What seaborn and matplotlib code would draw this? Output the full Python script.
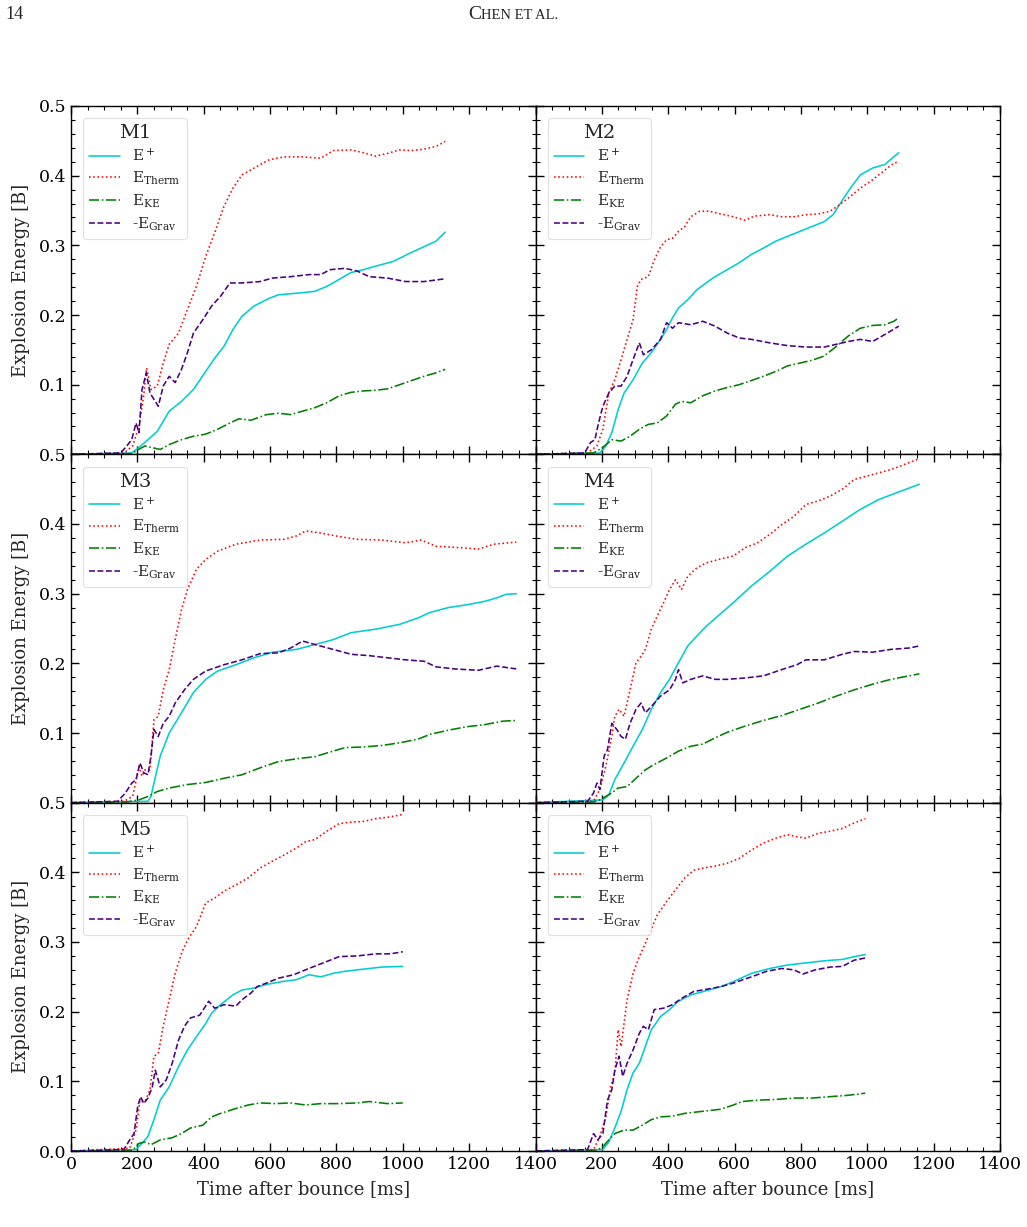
import numpy as np
import pandas as pd
import matplotlib
matplotlib.use("Agg")
import matplotlib.pyplot as plt
import seaborn as sns
from matplotlib.ticker import MultipleLocator, FuncFormatter

# ---------------- data (time in ms, energy in B) ----------------
MODELS = ["M1", "M2", "M3", "M4", "M5", "M6"]

# M1
M1_EP_T = [0, 183, 205, 232, 260, 296, 333, 369, 406, 433, 461, 488, 515, 552, 598, 625, 698, 735, 771, 808, 844, 881, 918, 972, 1018, 1064, 1100, 1128]
M1_EP_V = [0, 0.002, 0.010, 0.021, 0.033, 0.062, 0.076, 0.093, 0.119, 0.138, 0.155, 0.179, 0.198, 0.213, 0.224, 0.229, 0.232, 0.234, 0.241, 0.251, 0.261, 0.265, 0.270, 0.277, 0.288, 0.298, 0.306, 0.319]
M1_TH_T = [0, 160, 186, 205, 219, 228, 241, 260, 278, 296, 324, 351, 378, 406, 433, 461, 488, 515, 552, 598, 643, 698, 753, 790, 844, 881, 918, 954, 991, 1027, 1064, 1100, 1128]
M1_TH_V = [0, 0.002, 0.012, 0.041, 0.084, 0.124, 0.093, 0.098, 0.131, 0.158, 0.174, 0.208, 0.241, 0.284, 0.318, 0.356, 0.382, 0.401, 0.411, 0.423, 0.427, 0.427, 0.425, 0.436, 0.437, 0.433, 0.428, 0.432, 0.437, 0.436, 0.438, 0.442, 0.449]
M1_KE_T = [0, 185, 196, 223, 241, 269, 296, 333, 369, 406, 442, 479, 506, 543, 589, 625, 662, 698, 735, 771, 808, 844, 881, 918, 954, 991, 1027, 1064, 1100, 1128]
M1_KE_V = [0, 0.001, 0.005, 0.012, 0.010, 0.007, 0.014, 0.021, 0.026, 0.029, 0.036, 0.045, 0.051, 0.049, 0.057, 0.059, 0.057, 0.062, 0.067, 0.074, 0.084, 0.089, 0.091, 0.092, 0.094, 0.100, 0.106, 0.112, 0.117, 0.122]
M1_GR_T = [0, 150, 168, 183, 196, 205, 214, 227, 238, 250, 263, 278, 296, 314, 333, 351, 369, 397, 424, 451, 479, 515, 570, 607, 662, 717, 753, 780, 826, 863, 899, 954, 1009, 1064, 1128]
M1_GR_V = [0, 0.002, 0.012, 0.021, 0.045, 0.031, 0.093, 0.117, 0.088, 0.079, 0.069, 0.098, 0.112, 0.103, 0.122, 0.146, 0.174, 0.193, 0.213, 0.227, 0.246, 0.246, 0.248, 0.253, 0.255, 0.258, 0.258, 0.265, 0.267, 0.263, 0.255, 0.253, 0.248, 0.248, 0.252]

# M2
M2_EP_T = [0, 194, 212, 230, 249, 267, 294, 322, 349, 377, 395, 413, 431, 459, 486, 514, 541, 578, 614, 651, 687, 724, 760, 797, 833, 870, 897, 925, 952, 979, 1016, 1053, 1075, 1095]
M2_EP_V = [0, 0.002, 0.012, 0.031, 0.064, 0.088, 0.107, 0.131, 0.146, 0.165, 0.179, 0.196, 0.210, 0.222, 0.236, 0.246, 0.255, 0.265, 0.275, 0.287, 0.296, 0.306, 0.313, 0.320, 0.327, 0.334, 0.344, 0.365, 0.384, 0.401, 0.411, 0.416, 0.425, 0.433]
M2_TH_T = [0, 157, 185, 203, 221, 239, 258, 276, 294, 307, 318, 340, 358, 377, 395, 413, 431, 450, 468, 495, 523, 559, 596, 632, 660, 706, 742, 779, 815, 852, 888, 916, 943, 979, 1016, 1053, 1080, 1095]
M2_TH_V = [0, 0.002, 0.012, 0.036, 0.088, 0.107, 0.136, 0.165, 0.193, 0.241, 0.251, 0.255, 0.279, 0.298, 0.308, 0.310, 0.320, 0.327, 0.341, 0.349, 0.349, 0.345, 0.341, 0.336, 0.342, 0.344, 0.341, 0.341, 0.344, 0.345, 0.349, 0.358, 0.368, 0.382, 0.394, 0.408, 0.418, 0.420]
M2_KE_T = [0, 175, 203, 230, 258, 285, 313, 340, 367, 395, 422, 440, 468, 504, 541, 578, 614, 651, 687, 724, 760, 797, 833, 870, 907, 943, 979, 1016, 1053, 1080, 1095]
M2_KE_V = [0, 0.002, 0.010, 0.021, 0.019, 0.026, 0.036, 0.043, 0.045, 0.055, 0.072, 0.076, 0.074, 0.084, 0.091, 0.096, 0.100, 0.106, 0.112, 0.119, 0.127, 0.131, 0.135, 0.141, 0.155, 0.170, 0.181, 0.185, 0.186, 0.191, 0.196]
M2_GR_T = [0, 148, 166, 179, 190, 203, 221, 239, 258, 276, 294, 313, 325, 349, 377, 395, 413, 431, 468, 504, 541, 578, 614, 651, 706, 760, 815, 870, 907, 943, 979, 1016, 1053, 1095]
M2_GR_V = [0, 0.002, 0.017, 0.021, 0.045, 0.069, 0.088, 0.098, 0.098, 0.112, 0.136, 0.160, 0.143, 0.150, 0.165, 0.189, 0.181, 0.189, 0.186, 0.191, 0.184, 0.174, 0.167, 0.165, 0.160, 0.156, 0.154, 0.154, 0.158, 0.162, 0.165, 0.162, 0.172, 0.184]

# M3
M3_EP_T = [0, 232, 241, 250, 269, 296, 333, 369, 406, 442, 497, 552, 607, 680, 735, 790, 844, 918, 991, 1045, 1082, 1137, 1192, 1247, 1283, 1311, 1342]
M3_EP_V = [0, 0.002, 0.009, 0.028, 0.067, 0.100, 0.129, 0.158, 0.177, 0.189, 0.198, 0.208, 0.216, 0.220, 0.227, 0.234, 0.244, 0.249, 0.256, 0.265, 0.273, 0.280, 0.284, 0.289, 0.294, 0.299, 0.300]
M3_TH_T = [0, 160, 186, 205, 214, 223, 238, 250, 263, 278, 296, 314, 333, 351, 378, 406, 442, 497, 570, 643, 680, 707, 753, 808, 863, 936, 1009, 1055, 1100, 1174, 1228, 1274, 1342]
M3_TH_V = [0, 0.002, 0.009, 0.052, 0.038, 0.047, 0.047, 0.119, 0.124, 0.162, 0.191, 0.234, 0.277, 0.306, 0.335, 0.349, 0.361, 0.371, 0.377, 0.378, 0.383, 0.390, 0.387, 0.382, 0.378, 0.377, 0.373, 0.377, 0.368, 0.366, 0.364, 0.371, 0.374]
M3_KE_T = [0, 168, 205, 232, 260, 296, 351, 406, 461, 515, 570, 625, 680, 735, 790, 826, 881, 936, 991, 1045, 1082, 1137, 1192, 1247, 1302, 1342]
M3_KE_V = [0, 0.001, 0.004, 0.009, 0.016, 0.021, 0.026, 0.029, 0.035, 0.040, 0.050, 0.059, 0.063, 0.066, 0.074, 0.079, 0.080, 0.082, 0.086, 0.091, 0.098, 0.104, 0.109, 0.112, 0.117, 0.118]
M3_GR_T = [0, 141, 164, 183, 196, 208, 219, 232, 241, 250, 263, 278, 296, 314, 342, 369, 406, 461, 515, 570, 625, 662, 698, 735, 790, 844, 899, 954, 1009, 1064, 1100, 1155, 1228, 1283, 1342]
M3_GR_V = [0, 0.002, 0.014, 0.028, 0.033, 0.057, 0.043, 0.040, 0.067, 0.105, 0.095, 0.114, 0.124, 0.143, 0.162, 0.177, 0.189, 0.198, 0.205, 0.214, 0.215, 0.222, 0.232, 0.227, 0.220, 0.213, 0.211, 0.208, 0.205, 0.203, 0.195, 0.192, 0.190, 0.196, 0.192]

# M4
M4_EP_T = [0, 203, 221, 239, 267, 294, 322, 349, 377, 404, 431, 459, 486, 514, 550, 596, 651, 706, 760, 815, 870, 925, 979, 1034, 1089, 1157]
M4_EP_V = [0, 0.004, 0.011, 0.033, 0.057, 0.081, 0.105, 0.134, 0.158, 0.177, 0.201, 0.225, 0.239, 0.253, 0.268, 0.287, 0.311, 0.332, 0.354, 0.371, 0.387, 0.404, 0.421, 0.435, 0.445, 0.457]
M4_TH_T = [0, 175, 194, 212, 230, 239, 252, 267, 285, 303, 318, 331, 349, 367, 386, 404, 422, 440, 459, 486, 514, 559, 596, 632, 669, 706, 742, 779, 815, 852, 888, 925, 961, 1016, 1071, 1126, 1157]
M4_TH_V = [0, 0.002, 0.019, 0.052, 0.095, 0.124, 0.134, 0.124, 0.162, 0.201, 0.210, 0.220, 0.249, 0.268, 0.287, 0.306, 0.320, 0.306, 0.325, 0.337, 0.344, 0.350, 0.354, 0.366, 0.373, 0.385, 0.399, 0.411, 0.428, 0.433, 0.440, 0.450, 0.464, 0.471, 0.478, 0.488, 0.494]
M4_KE_T = [0, 175, 194, 212, 230, 249, 276, 303, 331, 358, 395, 431, 468, 504, 541, 578, 632, 687, 742, 797, 852, 907, 961, 1016, 1071, 1126, 1157]
M4_KE_V = [0, 0.001, 0.004, 0.009, 0.014, 0.021, 0.023, 0.035, 0.047, 0.055, 0.064, 0.074, 0.081, 0.084, 0.093, 0.101, 0.110, 0.118, 0.125, 0.134, 0.143, 0.153, 0.162, 0.170, 0.177, 0.182, 0.185]
M4_GR_T = [0, 157, 175, 185, 194, 207, 217, 230, 245, 258, 271, 285, 303, 318, 331, 349, 377, 404, 422, 431, 444, 468, 504, 541, 578, 632, 687, 742, 788, 815, 870, 925, 961, 1016, 1071, 1126, 1157]
M4_GR_V = [0, 0.002, 0.014, 0.028, 0.019, 0.067, 0.076, 0.114, 0.105, 0.095, 0.091, 0.114, 0.134, 0.143, 0.129, 0.138, 0.153, 0.162, 0.177, 0.191, 0.172, 0.177, 0.182, 0.177, 0.177, 0.179, 0.182, 0.191, 0.198, 0.205, 0.205, 0.213, 0.217, 0.216, 0.220, 0.222, 0.225]

# M5
M5_EP_T = [0, 196, 214, 232, 250, 269, 296, 324, 351, 378, 406, 424, 451, 488, 515, 552, 589, 634, 680, 717, 753, 790, 826, 881, 936, 1000]
M5_EP_V = [0, 0.002, 0.011, 0.021, 0.045, 0.073, 0.092, 0.121, 0.145, 0.164, 0.183, 0.198, 0.210, 0.224, 0.231, 0.234, 0.239, 0.243, 0.246, 0.253, 0.250, 0.255, 0.258, 0.261, 0.264, 0.265]
M5_TH_T = [0, 177, 196, 208, 223, 238, 250, 263, 278, 296, 314, 333, 351, 378, 406, 433, 461, 497, 534, 570, 607, 643, 680, 707, 735, 771, 808, 844, 881, 918, 954, 1000]
M5_TH_V = [0, 0.004, 0.030, 0.073, 0.071, 0.088, 0.136, 0.140, 0.179, 0.217, 0.255, 0.284, 0.303, 0.322, 0.356, 0.363, 0.373, 0.382, 0.392, 0.406, 0.416, 0.425, 0.435, 0.444, 0.447, 0.459, 0.470, 0.472, 0.473, 0.477, 0.479, 0.483]
M5_KE_T = [0, 186, 205, 223, 241, 269, 305, 333, 360, 397, 424, 451, 497, 534, 570, 616, 662, 707, 753, 808, 863, 899, 954, 1000]
M5_KE_V = [0, 0.001, 0.011, 0.013, 0.009, 0.016, 0.019, 0.025, 0.033, 0.037, 0.049, 0.054, 0.061, 0.066, 0.069, 0.068, 0.069, 0.066, 0.068, 0.068, 0.069, 0.071, 0.068, 0.069]
M5_GR_T = [0, 159, 177, 190, 201, 210, 219, 232, 245, 254, 269, 287, 305, 324, 342, 360, 388, 415, 433, 461, 497, 515, 543, 561, 589, 625, 671, 717, 771, 808, 863, 918, 963, 1000]
M5_GR_V = [0, 0.002, 0.016, 0.025, 0.064, 0.078, 0.068, 0.076, 0.092, 0.116, 0.092, 0.102, 0.126, 0.159, 0.179, 0.191, 0.195, 0.215, 0.205, 0.210, 0.208, 0.217, 0.227, 0.236, 0.241, 0.248, 0.253, 0.262, 0.272, 0.279, 0.280, 0.283, 0.283, 0.286]

# M6
M6_EP_T = [0, 203, 221, 239, 258, 276, 294, 313, 331, 349, 377, 404, 431, 468, 514, 559, 596, 651, 706, 760, 815, 870, 925, 961, 994]
M6_EP_V = [0, 0.002, 0.013, 0.033, 0.057, 0.088, 0.112, 0.126, 0.150, 0.174, 0.193, 0.203, 0.215, 0.224, 0.230, 0.236, 0.243, 0.255, 0.262, 0.267, 0.270, 0.273, 0.275, 0.279, 0.282]
M6_TH_T = [0, 175, 194, 212, 227, 239, 249, 258, 276, 294, 313, 331, 349, 367, 395, 422, 450, 477, 504, 541, 578, 614, 651, 687, 724, 760, 788, 815, 852, 888, 925, 961, 994]
M6_TH_V = [0, 0.002, 0.021, 0.049, 0.092, 0.112, 0.174, 0.150, 0.217, 0.255, 0.279, 0.298, 0.318, 0.339, 0.358, 0.375, 0.392, 0.403, 0.406, 0.409, 0.413, 0.420, 0.432, 0.442, 0.449, 0.454, 0.451, 0.449, 0.456, 0.459, 0.463, 0.471, 0.477]
M6_KE_T = [0, 185, 203, 221, 239, 267, 294, 322, 349, 377, 413, 450, 504, 559, 596, 623, 669, 724, 779, 833, 888, 943, 994]
M6_KE_V = [0, 0.001, 0.006, 0.016, 0.025, 0.030, 0.030, 0.037, 0.045, 0.049, 0.050, 0.054, 0.057, 0.060, 0.066, 0.071, 0.073, 0.074, 0.076, 0.076, 0.078, 0.080, 0.083]
M6_GR_T = [0, 157, 175, 188, 203, 217, 230, 239, 252, 263, 276, 294, 313, 325, 340, 358, 386, 413, 440, 477, 514, 559, 596, 651, 697, 742, 779, 806, 843, 888, 925, 961, 994]
M6_GR_V = [0, 0.002, 0.025, 0.016, 0.025, 0.073, 0.088, 0.116, 0.136, 0.107, 0.126, 0.145, 0.169, 0.179, 0.174, 0.203, 0.205, 0.210, 0.219, 0.229, 0.232, 0.236, 0.241, 0.250, 0.258, 0.262, 0.260, 0.254, 0.260, 0.264, 0.265, 0.274, 0.277]

SERIES_LABELS = [r"$\mathrm{E}^+$", r"$\mathrm{E}_\mathrm{Therm}$",
                 r"$\mathrm{E}_\mathrm{KE}$", r"-$\mathrm{E}_\mathrm{Grav}$"]
X_TICKS = [0, 200, 400, 600, 800, 1000, 1200, 1400]
Y_TICKS = [0.0, 0.1, 0.2, 0.3, 0.4, 0.5]

DATA = {
    "M1": [(M1_EP_T, M1_EP_V), (M1_TH_T, M1_TH_V), (M1_KE_T, M1_KE_V), (M1_GR_T, M1_GR_V)],
    "M2": [(M2_EP_T, M2_EP_V), (M2_TH_T, M2_TH_V), (M2_KE_T, M2_KE_V), (M2_GR_T, M2_GR_V)],
    "M3": [(M3_EP_T, M3_EP_V), (M3_TH_T, M3_TH_V), (M3_KE_T, M3_KE_V), (M3_GR_T, M3_GR_V)],
    "M4": [(M4_EP_T, M4_EP_V), (M4_TH_T, M4_TH_V), (M4_KE_T, M4_KE_V), (M4_GR_T, M4_GR_V)],
    "M5": [(M5_EP_T, M5_EP_V), (M5_TH_T, M5_TH_V), (M5_KE_T, M5_KE_V), (M5_GR_T, M5_GR_V)],
    "M6": [(M6_EP_T, M6_EP_V), (M6_TH_T, M6_TH_V), (M6_KE_T, M6_KE_V), (M6_GR_T, M6_GR_V)],
}

# ---------------- style ----------------
sns.set_theme(style="ticks")
plt.rcParams["font.family"] = ["DejaVu Serif"]
plt.rcParams["mathtext.fontset"] = "dejavuserif"
plt.rcParams["axes.edgecolor"] = "black"
plt.rcParams["axes.linewidth"] = 1.0

COLORS = ["darkturquoise", "red", "green", "indigo"]
STYLES = ["-", ":", "-.", "--"]

W, H = 1027, 1227
fig = plt.figure(figsize=(W / 100, H / 100), dpi=100)
L, R = 71 / W, 1000 / W
T, B = 1 - 106 / H, 1 - 1151 / H
pw = (R - L) / 2
ph = (T - B) / 3

for k, m in enumerate(MODELS):
    row, col = divmod(k, 2)
    ax = fig.add_axes([L + col * pw, T - (row + 1) * ph, pw, ph])
    for s in range(4):
        t, v = DATA[m][s]
        df = pd.DataFrame({"t": t, "E": v})
        sns.lineplot(data=df, x="t", y="E", ax=ax, color=COLORS[s],
                     linestyle=STYLES[s], linewidth=1.15, label=SERIES_LABELS[s],
                     sort=False, estimator=None)
    ax.set_xlim(0, 1400)
    ax.set_ylim(0, 0.5)
    ax.set_xticks(X_TICKS)
    ax.set_yticks(Y_TICKS)
    ax.xaxis.set_minor_locator(MultipleLocator(50))
    ax.yaxis.set_minor_locator(MultipleLocator(0.02))
    ax.tick_params(which="both", direction="in", top=True, right=True,
                   labelsize=12.5, colors="black")
    ax.tick_params(which="major", length=6, width=1)
    ax.tick_params(which="minor", length=3, width=0.8)

    if col == 0:
        if row < 2:
            ax.yaxis.set_major_formatter(FuncFormatter(lambda v, p: "" if v < 0.01 else f"{v:.1f}"))
        else:
            ax.yaxis.set_major_formatter(FuncFormatter(lambda v, p: f"{v:.1f}"))
        ax.set_ylabel("Explosion Energy [B]", fontsize=13, labelpad=6)
    else:
        ax.set_yticklabels([])
        ax.set_ylabel("")
    if row == 2:
        if col == 1:
            ax.xaxis.set_major_formatter(FuncFormatter(lambda v, p: "" if v < 1 else f"{v:.0f}"))
        else:
            ax.xaxis.set_major_formatter(FuncFormatter(lambda v, p: f"{v:.0f}"))
        ax.set_xlabel("Time after bounce [ms]", fontsize=13, labelpad=5)
    else:
        ax.set_xticklabels([])
        ax.set_xlabel("")

    leg = ax.legend(title=m, loc="upper left", fontsize=11, title_fontsize=14,
                    frameon=True, fancybox=True, framealpha=0.8, edgecolor="0.85",
                    borderaxespad=0.8, handlelength=2.0, labelspacing=0.35)
    leg.get_frame().set_linewidth(0.8)

# header
fig.text(5 / W, 1 - 19 / H, "14", fontsize=13, family="Liberation Serif", va="baseline")
fig.text(468 / W, 1 - 19 / H, "C", fontsize=14, family="Liberation Serif", va="baseline")
fig.text(481 / W, 1 - 19 / H, "HEN ET AL.", fontsize=10.5, family="Liberation Serif", va="baseline")

fig.savefig("out.png", dpi=100, facecolor="white")
